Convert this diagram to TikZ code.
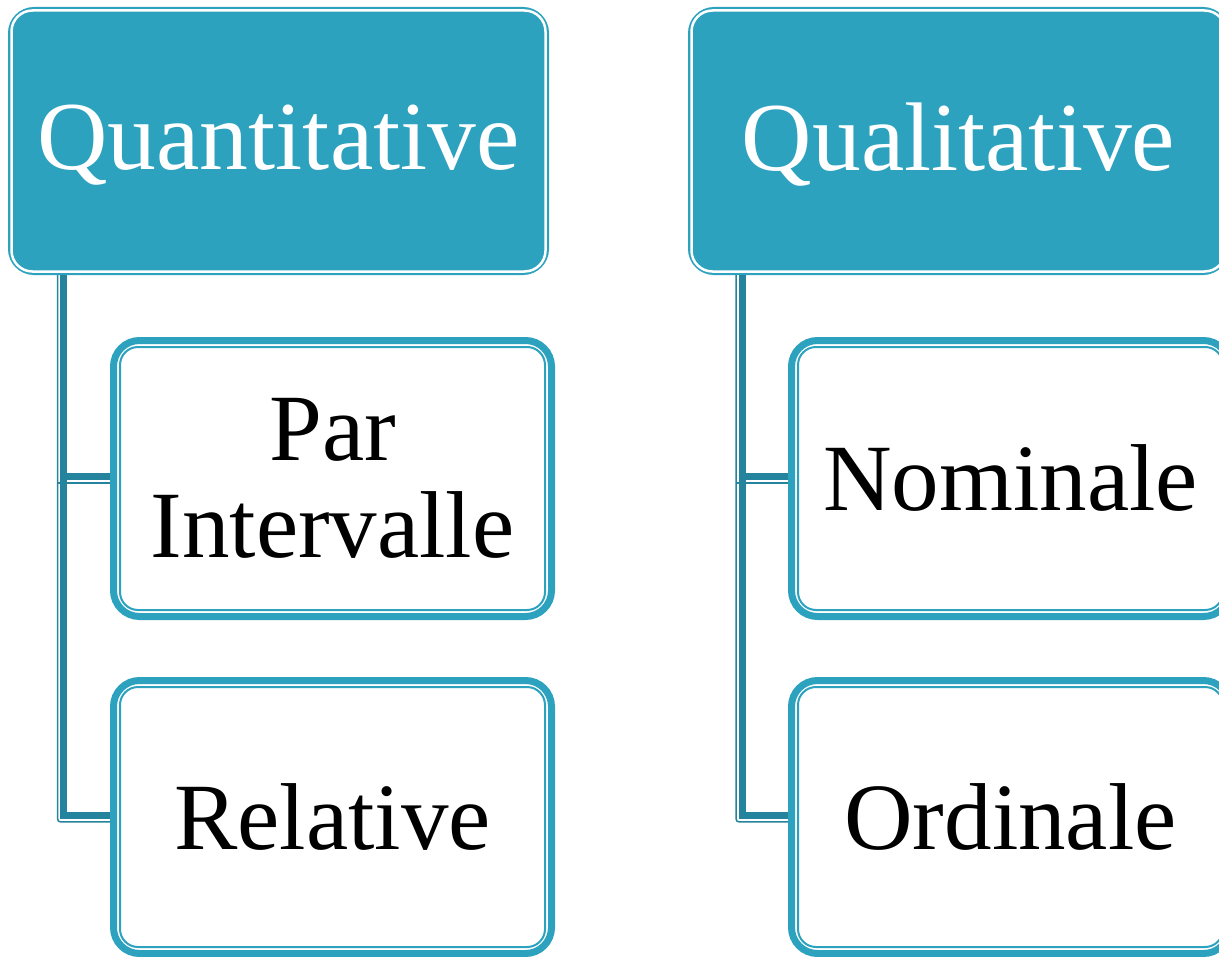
\documentclass[tikz,border=0pt]{standalone}
\usepackage{fontspec}
\setmainfont{Liberation Serif}
\definecolor{teal1}{HTML}{2CA2BF}
\definecolor{tealdark}{HTML}{25849D}
\begin{document}
\begin{tikzpicture}[x=0.5pt,y=-0.5pt,
  header/.style={draw=teal1, fill=teal1, line width=1pt, rounded corners=12.5pt,
    minimum width=269.5pt, minimum height=133pt, inner sep=0pt, text=white,
    font=\fontsize{48.75}{50}\selectfont},
  child/.style={draw=teal1, fill=white, line width=3.5pt, rounded corners=13pt,
    minimum width=219pt, inner sep=0pt, text=black, align=center,
    font=\fontsize{47.5}{48.5}\selectfont},
  hinner/.style={draw=white, line width=1.25pt, rounded corners=10.5pt},
  cinner/.style={draw=teal1, line width=1pt, rounded corners=9pt},
  conn/.style={draw=tealdark, line width=3.5pt},
  connthin/.style={draw=tealdark, line width=0.75pt, rounded corners=1.5pt}]
\useasboundingbox (0,0) rectangle (1219,957);
\clip (0,0) rectangle (1219,957);
% headers
\node[header] (hL) at (278.5,141) {\raisebox{-2pt}[\height][\depth]{Quantitative}};
\node[header] (hR) at (958.5,141) {\raisebox{-2pt}[\height][\depth]{Qualitative}};
% children
\node[child, minimum height=138pt] (c1) at (332.5,478.5) {Par\\Intervalle};
\node[child, minimum height=136.5pt] (c2) at (332.5,817) {Relative};
\node[child, minimum height=138pt] (d1) at (1010.5,478.5) {Nominale};
\node[child, minimum height=136.5pt] (d2) at (1010.5,817) {Ordinale};
% inner lines
\foreach \n in {hL,hR}{
  \draw[hinner] ([xshift=1.75pt,yshift=-1.75pt]\n.north west) rectangle ([xshift=-1.75pt,yshift=1.75pt]\n.south east);
}
\foreach \n in {c1,c2,d1,d2}{
  \draw[cinner] ([xshift=5pt,yshift=-5pt]\n.north west) rectangle ([xshift=-5pt,yshift=5pt]\n.south east);
}
% connectors
\coordinate (lv) at (63.75,0);
\coordinate (rv) at (742.25,0);
\coordinate (c1a) at ([yshift=1pt]c1.west);
\coordinate (c2a) at ([yshift=0.75pt]c2.west);
\coordinate (d1a) at ([yshift=1pt]d1.west);
\coordinate (d2a) at ([yshift=0.75pt]d2.west);
\draw[connthin] ([xshift=-3.1pt]hL.south -| lv) -- ([xshift=-3.1pt,yshift=-3.2pt]lv |- c2a) -- ([yshift=-3.2pt]c2a);
\draw[connthin] ([xshift=-3.1pt,yshift=-3.2pt]lv |- c1a) -- ([yshift=-3.2pt]c1a);
\draw[conn] (hL.south -| lv) -- (lv |- c2a) -- (c2a);
\draw[conn] (lv |- c1a) -- (c1a);
\draw[connthin] ([xshift=-3.1pt]hR.south -| rv) -- ([xshift=-3.1pt,yshift=-3.2pt]rv |- d2a) -- ([yshift=-3.2pt]d2a);
\draw[connthin] ([xshift=-3.1pt,yshift=-3.2pt]rv |- d1a) -- ([yshift=-3.2pt]d1a);
\draw[conn] (hR.south -| rv) -- (rv |- d2a) -- (d2a);
\draw[conn] (rv |- d1a) -- (d1a);
\end{tikzpicture}
\end{document}
